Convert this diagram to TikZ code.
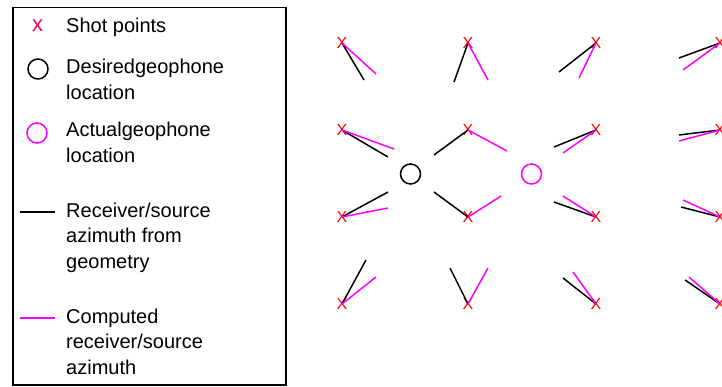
\documentclass[tikz,border=0pt]{standalone}
\usepackage{fontspec}
\setmainfont{Liberation Sans}
\definecolor{shotred}{RGB}{255,0,0}
\definecolor{legendred}{RGB}{250,0,100}
\definecolor{azmag}{RGB}{255,0,255}

\begin{document}
\begin{tikzpicture}
  [x=1pt,y=-1pt,every node/.style={inner sep=0pt},
   shot/.style={text=shotred,font=\fontsize{16}{16}\selectfont},
   geophone/.style={circle,draw,line width=1.5pt,minimum size=20pt},
   legtext/.style={anchor=base west,align=left,font=\fontsize{20}{25.5}\selectfont},
   geom/.style={black,line width=1.5pt},
   comp/.style={azmag,line width=1.5pt}]
  \useasboundingbox (0,0) rectangle (722,387);
  % legend
  \node[draw,line width=1.5pt,minimum width=273pt,minimum height=377pt,
    anchor=north west] (legend) at (12,7) {};
  \node[text=legendred,font=\fontsize{22}{22}\selectfont] (lshot) at (37.5,26) {x};
  \node[legtext] (tshot) at (66,33) {Shot points};
  \node[geophone] (ldes) at (38,69) {};
  \node[legtext] (tdes) at (66,99.5) {Desiredgeophone\\location};
  \node[geophone,draw=azmag] (lact) at (37,133) {};
  \node[legtext] (tact) at (66,162.5) {Actualgeophone\\location};
  \coordinate (lgeoA) at (20,212);
  \coordinate (lgeoB) at (55,212);
  \draw[geom] (lgeoA) -- (lgeoB);
  \node[legtext] (tgeo) at (66,268) {Receiver/source\\azimuth from\\geometry};
  \coordinate (lcompA) at (20,318);
  \coordinate (lcompB) at (55,318);
  \draw[comp] (lcompA) -- (lcompB);
  \node[legtext] (tcomp) at (66,374) {Computed\\receiver/source\\azimuth};
  % geophones
  \node[geophone] (desired) at (410.5,174) {};
  \node[geophone,draw=azmag] (actual) at (531.5,174) {};
  % shot points
  \foreach \s/\x/\y in {s11/342/43,s12/468/43,s13/596/43,s14/720/43,
                        s21/342/130,s22/468/130,s23/596/130,s24/720/130,
                        s31/342/217,s32/468/217,s33/596/217,s34/720/217,
                        s41/342/304,s42/468/304,s43/596/304,s44/720/304}
     \node[shot] (\s) at (\x,\y) {X};
  % azimuths
  \foreach \s/\bx/\by/\mx/\my in {s11/364/80/376/74,s12/454/82/488/80,
        s13/559/72/579/78,s14/679/58/683/70,
        s21/388/157/394/149,s22/434/155/507/151,
        s23/554/147/563/153,s24/679/135/679/141,
        s31/388/192/388/208,s32/434/192/501/196,
        s33/554/202/563/196,s34/681/207/683/200,
        s41/366/260/376/277,s42/450/268/488/268,
        s43/563/278/573/272,s44/685/280/689/277}
  {
     \draw[geom] (\s.center) -- (\bx,\by);
     \draw[comp] (\s.center) -- (\mx,\my);
  }
\end{tikzpicture}
\end{document}
